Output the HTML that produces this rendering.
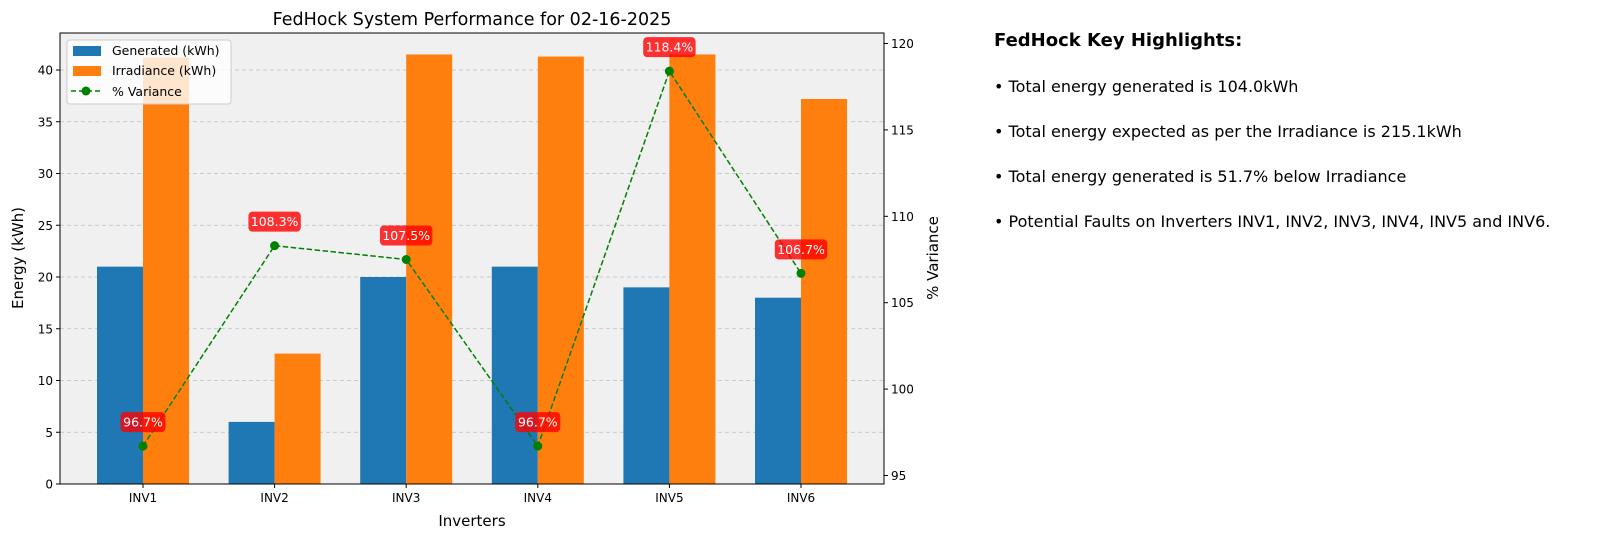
<!DOCTYPE html>
<html><head><meta charset="utf-8"><style>
body{margin:0;background:#fff;width:1607px;height:552px;overflow:hidden;font-family:"Liberation Sans","DejaVu Sans",sans-serif}
svg text{font-family:"DejaVu Sans","Liberation Sans",sans-serif}
.hl{position:absolute;left:994px;font-family:"DejaVu Sans","Liberation Sans",sans-serif;font-size:16px;color:#000}
</style></head><body>
<svg id="chart" width="1607" height="552" style="position:absolute;left:0;top:0"></svg>
<div class="hl" style="top:30px;font-weight:bold;font-size:18px">FedHock Key Highlights:</div>
<div class="hl" style="top:77px">• Total energy generated is 104.0kWh</div>
<div class="hl" style="top:122px">• Total energy expected as per the Irradiance is 215.1kWh</div>
<div class="hl" style="top:167px">• Total energy generated is 51.7% below Irradiance</div>
<div class="hl" style="top:212px">• Potential Faults on Inverters INV1, INV2, INV3, INV4, INV5 and INV6.</div>
<script>
const categories=["INV1","INV2","INV3","INV4","INV5","INV6"];
const generated=[21,6,20,21,19,18];
const irradiance=[41.2,12.6,41.5,41.3,41.5,37.2];
const variance=[96.7,108.3,107.5,96.7,118.4,106.7];
const leftTicks=[0,5,10,15,20,25,30,35,40];
const rightTicks=[95,100,105,110,115,120];

const NS="http://www.w3.org/2000/svg";
const svg=document.getElementById("chart");
function mk(tag,attrs,parent){const e=document.createElementNS(NS,tag);for(const k in attrs)e.setAttribute(k,attrs[k]);(parent||svg).appendChild(e);return e;}
const L=60,R=884,T=33,B=484;
const yL=v=>B-v*10.35;
const yR=v=>475.5-(v-95)*17.28;
const step=131.6,x0=143;
const xC=i=>x0+i*step;
const bw=46;

const bg=mk("rect",{x:L,y:T,width:R-L,height:B-T,fill:"#f0f0f0"});


leftTicks.forEach(t=>{
  if(t>0){const g=mk("line",{x1:L,x2:R,y1:yL(t),y2:yL(t),stroke:"#bdbdbd","stroke-dasharray":"4,3","stroke-width":0.8});
  
  }
  mk("line",{x1:L-4,x2:L,y1:yL(t),y2:yL(t),stroke:"#000"});
  const tx=mk("text",{x:L-7,y:yL(t)+4.5,"text-anchor":"end","font-size":12});tx.textContent=t;
  
  
});
rightTicks.forEach(t=>{
  mk("line",{x1:R,x2:R+4,y1:yR(t),y2:yR(t),stroke:"#000"});
  const tx=mk("text",{x:R+7,y:yR(t)+4.5,"font-size":12});tx.textContent=t;
  
  
});
categories.forEach((c,i)=>{
  const b1=mk("rect",{x:xC(i)-bw,y:yL(generated[i]),width:bw,height:B-yL(generated[i]),fill:"#1f77b4"});
  
  
  const b2=mk("rect",{x:xC(i),y:yL(irradiance[i]),width:bw,height:B-yL(irradiance[i]),fill:"#ff7f0e"});
  
  
  mk("line",{x1:xC(i),x2:xC(i),y1:B,y2:B+4,stroke:"#000"});
  const tx=mk("text",{x:xC(i),y:B+18,"text-anchor":"middle","font-size":12});tx.textContent=c;
  
  
});
const pts=variance.map((v,i)=>xC(i)+","+yR(v)).join(" ");
const ln=mk("polyline",{points:pts,fill:"none",stroke:"#008000","stroke-width":1.5,"stroke-dasharray":"5.5,2.5"});


variance.forEach((v,i)=>{
  const p=mk("circle",{cx:xC(i),cy:yR(v),r:4.5,fill:"#008000"});
  
  
});
variance.forEach((v,i)=>{
  const s=v.toFixed(1)+"%";const w=s.length*7.4+8;const cy=yR(v)-24;
  const r=mk("rect",{x:xC(i)-w/2,y:cy-10,width:w,height:20,rx:4,fill:"rgba(255,0,0,0.8)"});
  
  
  const t=mk("text",{x:xC(i),y:cy+4.5,"text-anchor":"middle","font-size":12.5,fill:"#fff"});t.textContent=s;
  
  
});
mk("rect",{x:L,y:T,width:R-L,height:B-T,fill:"none",stroke:"#000","stroke-width":1});
// legend
const lg=mk("g",{});


mk("rect",{x:67,y:40,width:164,height:64,rx:3,fill:"rgba(255,255,255,0.8)",stroke:"#ccc"},lg);
mk("rect",{x:73,y:46,width:28,height:10,fill:"#1f77b4"},lg);
mk("rect",{x:73,y:66,width:28,height:10,fill:"#ff7f0e"},lg);
mk("line",{x1:71,x2:101,y1:91,y2:91,stroke:"#008000","stroke-width":1.5,"stroke-dasharray":"5,3"},lg);
mk("circle",{cx:86,cy:91,r:4.5,fill:"#008000"},lg);
[["Generated (kWh)",55],["Irradiance (kWh)",75],["% Variance",96]].forEach(([s,y])=>{const t=mk("text",{x:112,y:y,"font-size":12.5},lg);t.textContent=s;
  
  });
const ti=mk("text",{x:472,y:25,"text-anchor":"middle","font-size":17.5});ti.textContent="FedHock System Performance for 02-16-2025";


const xt=mk("text",{x:472,y:526,"text-anchor":"middle","font-size":15});xt.textContent="Inverters";


const yt=mk("text",{x:0,y:0,"text-anchor":"middle","font-size":15,transform:"translate(23,258) rotate(-90)"});yt.textContent="Energy (kWh)";


const y2=mk("text",{x:0,y:0,"text-anchor":"middle","font-size":15,transform:"translate(938,258) rotate(-90)"});y2.textContent="% Variance";


</script>
</body></html>
